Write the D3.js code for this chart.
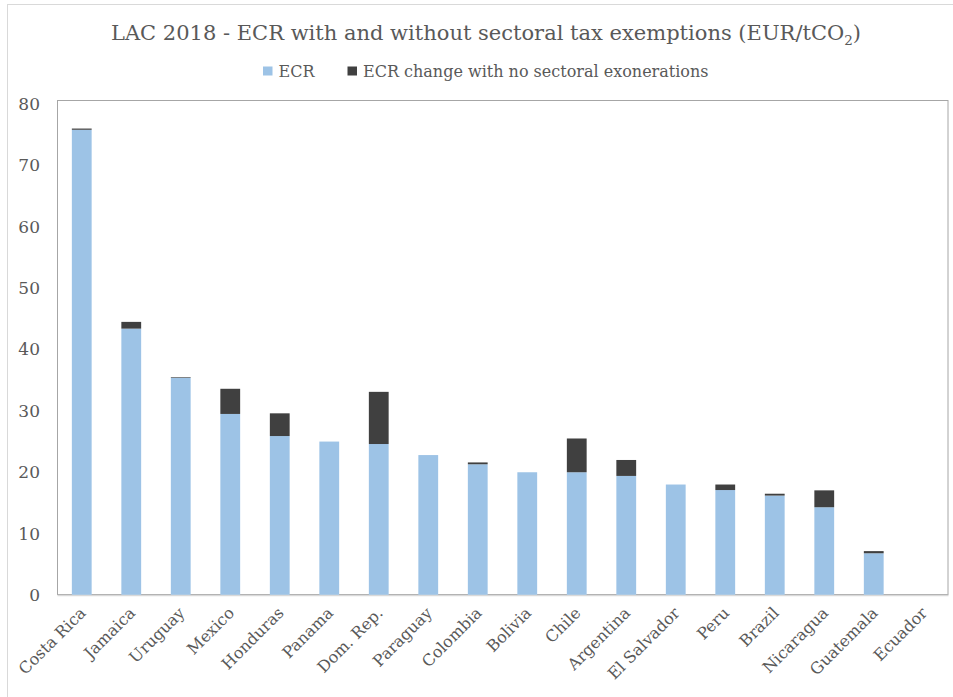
<!DOCTYPE html>
<html>
<head>
<meta charset="utf-8">
<script src="https://cdn.jsdelivr.net/npm/d3@7"></script>
<style>
  html, body { margin: 0; padding: 0; background: #fff; }
  svg { display: block; }
  text { font-family: "DejaVu Serif", "Liberation Serif", serif; }
</style>
</head>
<body>
<svg id="chart" width="953" height="697"></svg>
<script>
// Countries, in the order drawn
const countries = ["Costa Rica", "Jamaica", "Uruguay", "Mexico", "Honduras", "Panama",
  "Dom. Rep.", "Paraguay", "Colombia", "Bolivia", "Chile", "Argentina", "El Salvador",
  "Peru", "Brazil", "Nicaragua", "Guatemala", "Ecuador"];
// Effective carbon rate, 2018 (EUR/tCO2)
const ecr = [75.8, 43.4, 35.4, 29.5, 25.9, 25.0, 24.6, 22.8, 21.3, 20.0, 20.0, 19.4, 18.0,
  17.1, 16.2, 14.3, 6.8, 0];
// Increase in ECR if sectoral exonerations were removed
const ecrChange = [0.2, 1.1, 0.1, 4.1, 3.7, 0, 8.5, 0, 0.3, 0, 5.5, 2.6, 0,
  0.9, 0.3, 2.75, 0.35, 0];
const yTicks = [0, 10, 20, 30, 40, 50, 60, 70, 80];
const seriesNames = ["ECR", "ECR change with no sectoral exonerations"];
const seriesColors = ["#9DC3E6", "#404040"];

const svg = d3.select("#chart");
const margin = { left: 57, right: 5, top: 104, bottom: 102 };
const W = 953, H = 697;

// Outer chart frame
svg.append("rect").attr("x", 7.5).attr("y", 4.5).attr("width", 960).attr("height", 700)
  .attr("fill", "none").attr("stroke", "#d9d9d9");

const x = d3.scaleBand().domain(countries)
  .range([margin.left, W - margin.right]).paddingInner(0.6).paddingOuter(0.3);
const y = d3.scaleLinear().domain([0, 80]).range([H - margin.bottom, margin.top]);

const rows = countries.map((c, i) => ({ country: c, ecr: ecr[i], change: ecrChange[i] }));
const stack = d3.stack().keys(["ecr", "change"])(rows);

// Plot area border
svg.append("rect")
  .attr("x", margin.left + 0.5).attr("y", margin.top - 3.5)
  .attr("width", W - margin.right - margin.left - 0.5)
  .attr("height", H - margin.bottom - margin.top + 3)
  .attr("fill", "none").attr("stroke", "#a6a6a6").attr("stroke-width", 1);

// Stacked bars
svg.append("g").selectAll("g").data(stack).join("g")
  .attr("fill", (d, i) => seriesColors[i])
  .selectAll("rect").data(d => d.filter(s => s[1] - s[0] > 0)).join("rect")
  .attr("x", d => x(d.data.country))
  .attr("width", x.bandwidth())
  .attr("y", d => y(d[1]))
  .attr("height", d => y(d[0]) - y(d[1]));

// Category axis
const xAxis = svg.append("g").attr("transform", `translate(0,${y(0)})`)
  .call(d3.axisBottom(x).tickSize(0).tickPadding(0));
xAxis.select(".domain").attr("stroke", "#d9d9d9").attr("stroke-width", 1.5);
xAxis.selectAll("text")
  .attr("font-size", 16).attr("fill", "#595959")
  .attr("text-anchor", "end")
  .attr("dy", 0)
  .attr("transform", "translate(5,19) rotate(-45)");

// Value axis
const yAxis = svg.append("g").attr("transform", `translate(${margin.left},0)`)
  .call(d3.axisLeft(y).tickValues(yTicks).tickSize(0).tickPadding(17));
yAxis.select(".domain").remove();
yAxis.selectAll("text").attr("font-size", 17).attr("fill", "#595959");

// Title
const title = svg.append("text").attr("x", 486).attr("y", 40)
  .attr("text-anchor", "middle").attr("font-size", 21).attr("fill", "#595959");
title.append("tspan").text("LAC 2018 - ECR with and without sectoral tax exemptions (EUR/tCO");
title.append("tspan").text("2").attr("font-size", 13.5).attr("dy", 5);
title.append("tspan").text(")").attr("dy", -5);

// Legend
const legend = svg.append("g").attr("transform", "translate(0,71)");
const legendX = [263, 347.5];
seriesNames.forEach((name, i) => {
  legend.append("rect").attr("x", legendX[i]).attr("y", -4.5).attr("width", 9.5).attr("height", 9)
    .attr("fill", seriesColors[i]);
  legend.append("text").attr("x", legendX[i] + 15.5).attr("y", 6)
    .attr("font-size", 16).attr("fill", "#595959").text(name);
});
</script>
</body>
</html>
